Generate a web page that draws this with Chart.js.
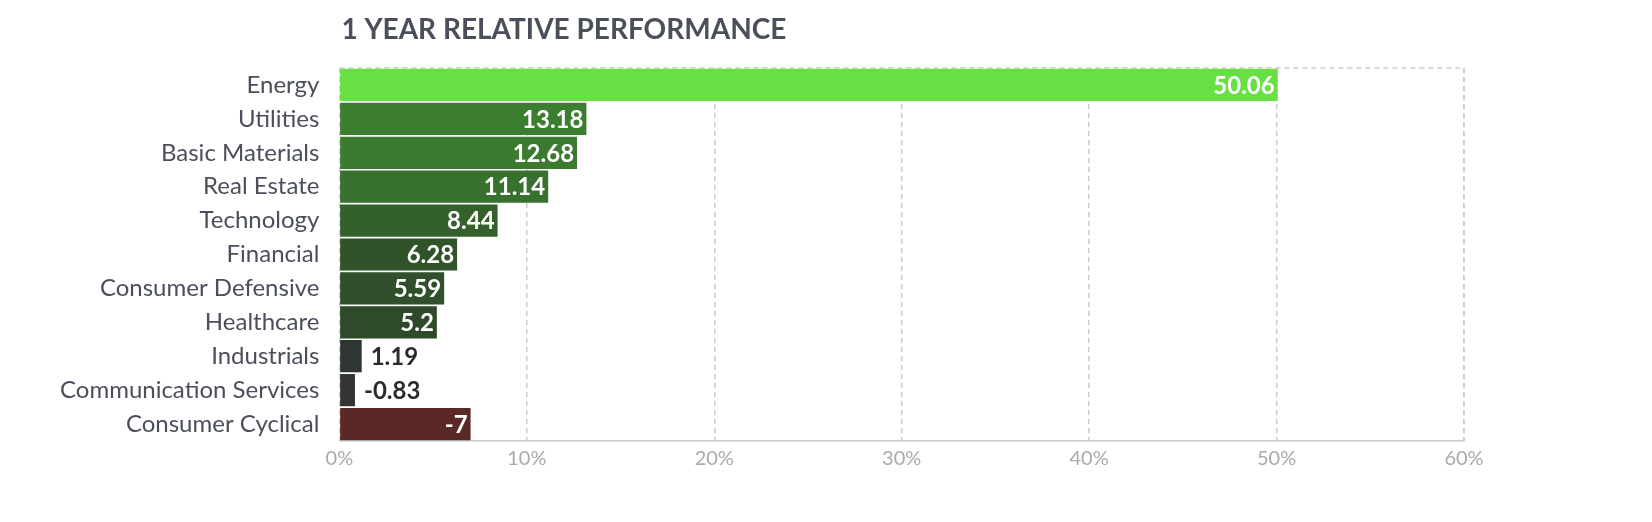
<!DOCTYPE html>
<html>
<head>
<meta charset="utf-8">
<script src="https://cdn.jsdelivr.net/npm/chart.js@4/dist/chart.umd.min.js"></script>
<style>
  body { margin: 0; background: #fff; }
  #wrap { width: 1652px; height: 522px; }
</style>
</head>
<body>
<div id="wrap"><canvas id="perf"></canvas></div>
<script>
const sectors = ["Energy", "Utilities", "Basic Materials", "Real Estate", "Technology", "Financial",
  "Consumer Defensive", "Healthcare", "Industrials", "Communication Services", "Consumer Cyclical"];
const returns = [50.06, 13.18, 12.68, 11.14, 8.44, 6.28, 5.59, 5.2, 1.19, -0.83, -7];
const barColors = ["#67e044", "#3c7e2f", "#3b7a2f", "#38702d", "#34602b", "#31532a",
  "#304f2a", "#2f4a2a", "#2f3631", "#333333", "#5b2925"];
const xTicks = [0, 10, 20, 30, 40, 50, 60];

// bars are drawn by size, the sign only shows in the label
const lengths = returns.map((v) => Math.abs(v));

const titleAndLabels = {
  id: "titleAndLabels",
  afterDatasetsDraw(chart) {
    const { ctx, chartArea } = chart;
    ctx.save();
    ctx.font = "bold 28px Lato";
    ctx.fillStyle = "#4b4f5c";
    ctx.textBaseline = "middle";
    ctx.textAlign = "left";
    ctx.fillText("1 YEAR RELATIVE PERFORMANCE", chartArea.left + 2, 30);

    ctx.font = "bold 24px Lato";
    chart.getDatasetMeta(0).data.forEach((bar, i) => {
      const txt = String(returns[i]);
      const w = ctx.measureText(txt).width;
      if (bar.x - chartArea.left > w + 12) {
        ctx.textAlign = "right";
        ctx.fillStyle = "#fff";
        ctx.fillText(txt, bar.x - 3, bar.y + 1);
      } else {
        ctx.textAlign = "left";
        ctx.fillStyle = "#2b2b2b";
        ctx.fillText(txt, bar.x + 9, bar.y + 1);
      }
    });
    // dashed frame on top and right
    ctx.strokeStyle = "#cccccc";
    ctx.lineWidth = 1.5;
    ctx.setLineDash([5, 4]);
    ctx.beginPath();
    ctx.moveTo(chartArea.left, chartArea.top);
    ctx.lineTo(chartArea.right, chartArea.top);
    ctx.lineTo(chartArea.right, chartArea.bottom);
    ctx.stroke();
    ctx.restore();
  },
};

new Chart(document.getElementById("perf"), {
  type: "bar",
  data: {
    labels: sectors,
    datasets: [{ data: lengths, backgroundColor: barColors, categoryPercentage: 0.95, barPercentage: 1 }],
  },
  options: {
    indexAxis: "y",
    responsive: true,
    maintainAspectRatio: false,
    animation: false,
    layout: { padding: { top: 68, right: 188, bottom: 45, left: 48 } },
    plugins: { legend: { display: false }, tooltip: { enabled: false } },
    scales: {
      x: {
        min: 0,
        max: 60,
        afterBuildTicks: (axis) => { axis.ticks = xTicks.map((v) => ({ value: v })); },
        grid: { color: "#cccccc", lineWidth: 1.5, drawTicks: false },
        border: { display: true, dash: [5, 4], color: "#cccccc", width: 1.5 },
        ticks: { color: "#aaaaaa", font: { family: "Lato", size: 20 }, padding: 6, callback: (v) => v + "%" },
      },
      y: {
        grid: { display: false },
        border: { display: false },
        ticks: { color: "#4b4f5c", font: { family: "Lato", size: 24 }, padding: 12 },
      },
    },
  },
  plugins: [titleAndLabels],
});
</script>
</body>
</html>
